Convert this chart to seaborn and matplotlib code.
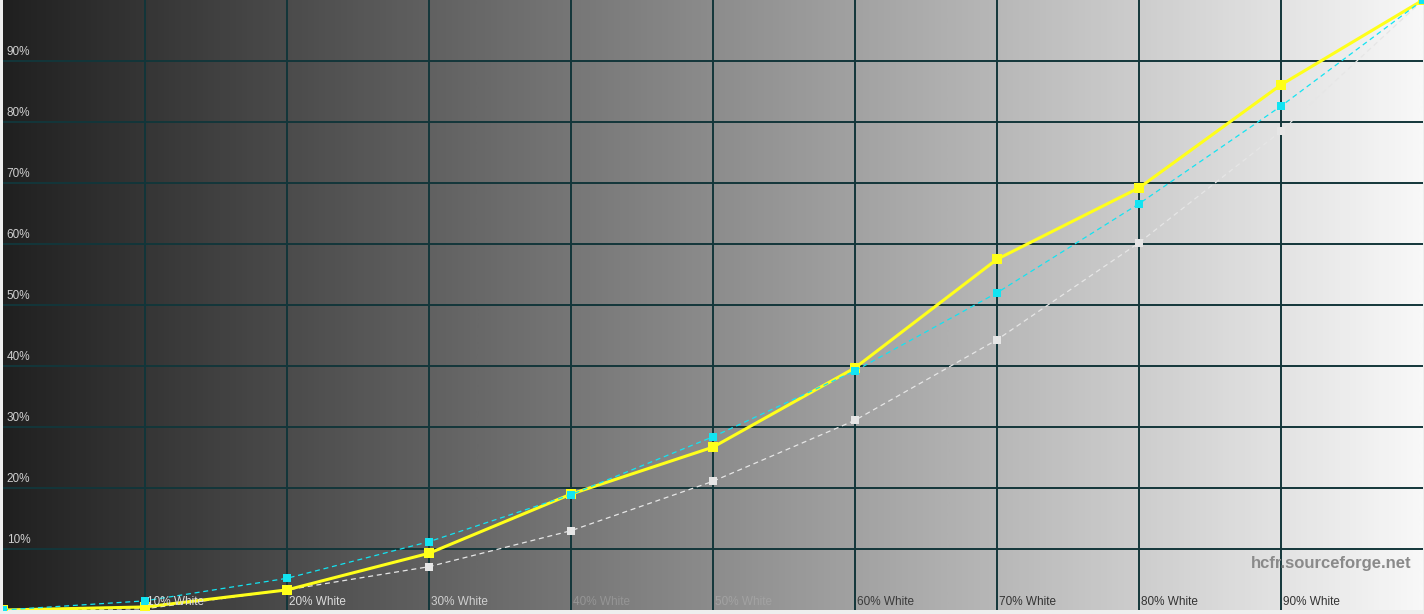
import numpy as np
import pandas as pd
import matplotlib
matplotlib.use("Agg")
import matplotlib.pyplot as plt
import seaborn as sns
from matplotlib.colors import LinearSegmentedColormap

sns.set_style("white")
plt.rcParams['font.family'] = ['Liberation Sans', 'DejaVu Sans']

# ---- data ----
levels = [0, 10, 20, 30, 40, 50, 60, 70, 80, 90, 100]
measured = [0, 0.5, 3.3, 9.3, 19.0, 26.7, 39.7, 57.5, 69.2, 86.1, 100]
reference = [0, 1.5, 5.2, 11.2, 18.9, 28.4, 39.2, 52.0, 66.6, 82.6, 100]
gamma_ref = [0, 0.2, 3.3, 7.1, 13.0, 21.1, 31.1, 44.3, 60.2, 78.5, 100]
y_ticks = [10, 20, 30, 40, 50, 60, 70, 80, 90]
y_tick_labels = [f"{v}%" for v in y_ticks]
x_ticks = [10, 20, 30, 40, 50, 60, 70, 80, 90]
x_tick_labels = [f"{v}% White" for v in x_ticks]
watermark = "hcfr.sourceforge.net"

df = pd.DataFrame({"level": levels, "measured": measured,
                   "reference": reference, "gamma": gamma_ref})

W, H, DPI = 1424, 614, 100
fig = plt.figure(figsize=(W / DPI, H / DPI), dpi=DPI, facecolor="#eeeeee")
ax = fig.add_axes([3 / W, 4 / H, 1420 / W, 610 / H])
ax.set_xlim(0, 100)
ax.set_ylim(0, 100)

# background gradient
grad = np.linspace(0, 1, 512).reshape(1, -1)
cmap = LinearSegmentedColormap.from_list("bg", ["#202020", "#f8f8f8"])
ax.imshow(grad, extent=[0, 100, 0, 100], aspect="auto", cmap=cmap, zorder=0)

# grid
for v in x_ticks:
    ax.axvline(v, color="#13363a", lw=1.4, zorder=1)
for v in y_ticks:
    ax.axhline(v, color="#13363a", lw=1.4, zorder=1)

# series
sns.lineplot(data=df, x="level", y="gamma", ax=ax, color="#e6e6e6", lw=0.9,
             linestyle=(0, (4, 3)), marker="s", markersize=6, markeredgewidth=0,
             zorder=3)
sns.lineplot(data=df, x="level", y="measured", ax=ax, color="#ffff1a", lw=2.2,
             marker="s", markersize=6.5, markeredgewidth=0, zorder=4)
sns.lineplot(data=df, x="level", y="reference", ax=ax, color="#12e4f2", lw=0.9,
             linestyle=(0, (4, 3)), marker="s", markersize=6, markeredgewidth=0,
             zorder=5)

# tick labels inside plot
for v, lab in zip(y_ticks, y_tick_labels):
    ax.text(0.25, v + 0.5, lab, color="#cfcfcf", fontsize=8.5, ha="left",
            va="bottom", zorder=6)
x_label_colors = ["#dcdcdc", "#dcdcdc", "#d0d0d0", "#959595", "#a2a2a2",
                  "#3a3a3a", "#333333", "#333333", "#333333"]
for v, lab, c in zip(x_ticks, x_tick_labels, x_label_colors):
    ax.text(v + 0.15, 0.3, lab, color=c, fontsize=8.5, ha="left",
            va="bottom", zorder=6)

ax.text(99.2, 6.4, watermark, color="#8a8a8a", fontsize=12,
        fontweight="bold", ha="right", va="bottom", zorder=6)

ax.set_xticks([])
ax.set_yticks([])
ax.set_xlabel("")
ax.set_ylabel("")
for s in ax.spines.values():
    s.set_visible(False)
if ax.get_legend():
    ax.get_legend().remove()

fig.savefig("out.png", dpi=DPI, facecolor=fig.get_facecolor())
